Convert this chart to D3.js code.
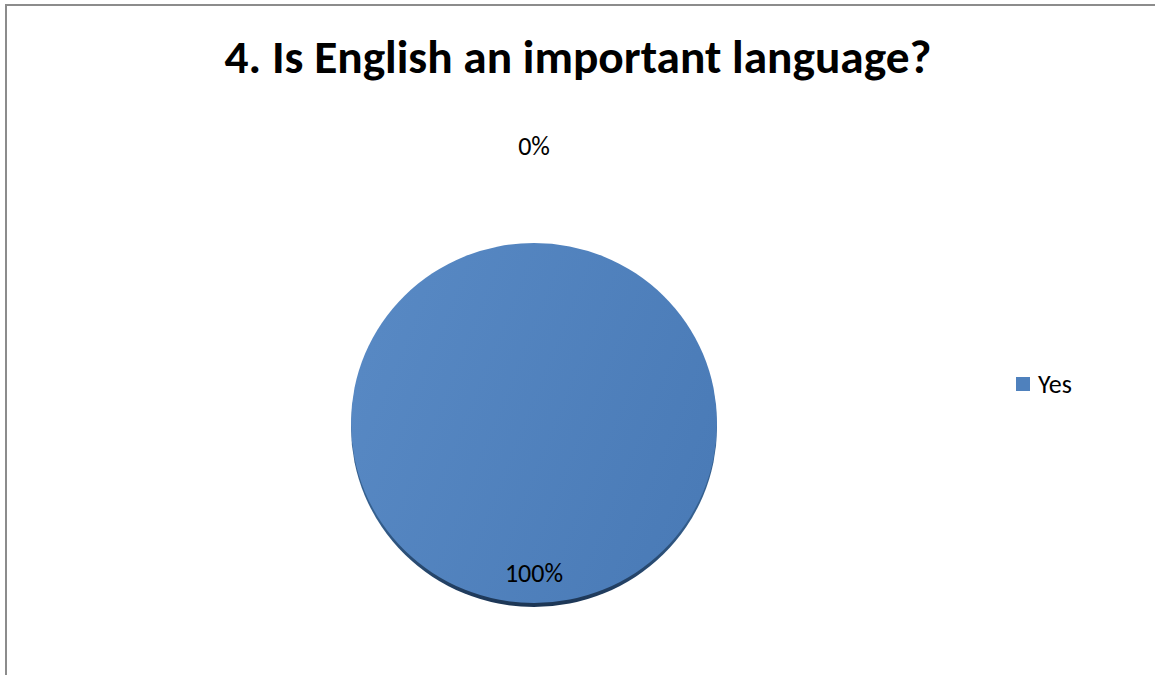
<!DOCTYPE html>
<html>
<head>
<meta charset="utf-8">
<script src="https://cdn.jsdelivr.net/npm/d3@7"></script>
<style>
  html, body { margin: 0; padding: 0; background: #fff; }
  svg { display: block; }
  text { font-family: Carlito, "Open Sans", "Liberation Sans", sans-serif; }
</style>
</head>
<body>
<svg id="chart" width="1155" height="675"></svg>
<script>
// Survey answers
const categories = ["Yes", ""];
const values = [100, 0];
const seriesColors = ["#4f81bd", "#c0504d"];
const chartTitle = "4. Is English an important language?";

const W = 1155, H = 675;
const svg = d3.select("#chart");

// Chart frame
svg.append("rect")
  .attr("x", 6).attr("y", 5)
  .attr("width", W + 20).attr("height", H + 20)
  .attr("fill", "#fff")
  .attr("stroke", "#8c8c8c").attr("stroke-width", 2);

// Title, fitted to its line width
const title = svg.append("text")
  .attr("x", 578).attr("y", 73)
  .attr("text-anchor", "middle")
  .attr("font-weight", "bold")
  .attr("font-size", 40)
  .attr("fill", "#000")
  .text(chartTitle);
const tw = title.node().getComputedTextLength();
title.attr("font-size", 40 * 707 / tw);

const defs = svg.append("defs");
const faceGrad = defs.append("linearGradient").attr("id", "face")
  .attr("x1", "0%").attr("y1", "20%").attr("x2", "100%").attr("y2", "60%");
faceGrad.append("stop").attr("offset", "0%").attr("stop-color", "#5889c4");
faceGrad.append("stop").attr("offset", "100%").attr("stop-color", "#4a7bb7");

const rimGrad = defs.append("linearGradient").attr("id", "rim")
  .attr("x1", "0%").attr("y1", "0%").attr("x2", "0%").attr("y2", "100%");
rimGrad.append("stop").attr("offset", "75%").attr("stop-color", "#35608f");
rimGrad.append("stop").attr("offset", "100%").attr("stop-color", "#1c3554");

const cx = 534, cy = 423, r = 183, squash = 0.984;

const pie = d3.pie().sort(null).value(d => d.value);
const data = categories.map((c, i) => ({ name: c, value: values[i], color: seriesColors[i] }));
const arcs = pie(data);

const arc = d3.arc().innerRadius(0).outerRadius(r);
const labelIn = d3.arc().innerRadius(r * 0.83).outerRadius(r * 0.83);
const labelOut = d3.arc().innerRadius(r + 99).outerRadius(r + 99);

const total = d3.sum(values);
const fmt = d => Math.round(d.value / total * 100) + "%";

// Bevelled rim under the face
const rimG = svg.append("g").attr("transform", `translate(${cx},${cy + 4}) scale(1,${squash})`);
rimG.selectAll("path").data(arcs.filter(d => d.value > 0)).join("path")
  .attr("d", arc)
  .attr("fill", "url(#rim)");

// Pie face
const g = svg.append("g").attr("transform", `translate(${cx},${cy}) scale(1,${squash})`);
g.selectAll("path").data(arcs.filter(d => d.value > 0)).join("path")
  .attr("d", arc)
  .attr("fill", (d, i) => i === 0 ? "url(#face)" : d.data.color);

// Data labels: inside for filled slices, outside for empty ones
const lg = svg.append("g").attr("transform", `translate(${cx},${cy})`);
lg.selectAll("text").data(arcs).join("text")
  .attr("transform", d => {
    const [x, y] = (d.value > 0 ? labelIn : labelOut).centroid(d);
    return `translate(${x},${y * squash})`;
  })
  .attr("text-anchor", "middle")
  .attr("dy", "0.35em")
  .attr("font-size", 26)
  .attr("fill", "#000")
  .text(fmt);

// Legend
const legend = svg.append("g").attr("transform", "translate(1016,377)");
const items = legend.selectAll("g").data(data.filter(d => d.name !== "")).join("g")
  .attr("transform", (d, i) => `translate(0,${i * 30})`);
items.append("rect").attr("width", 14).attr("height", 14).attr("fill", d => d.color);
items.append("text").attr("x", 22).attr("y", 15.5)
  .attr("font-size", 26).attr("fill", "#000")
  .text(d => d.name);
</script>
</body>
</html>
